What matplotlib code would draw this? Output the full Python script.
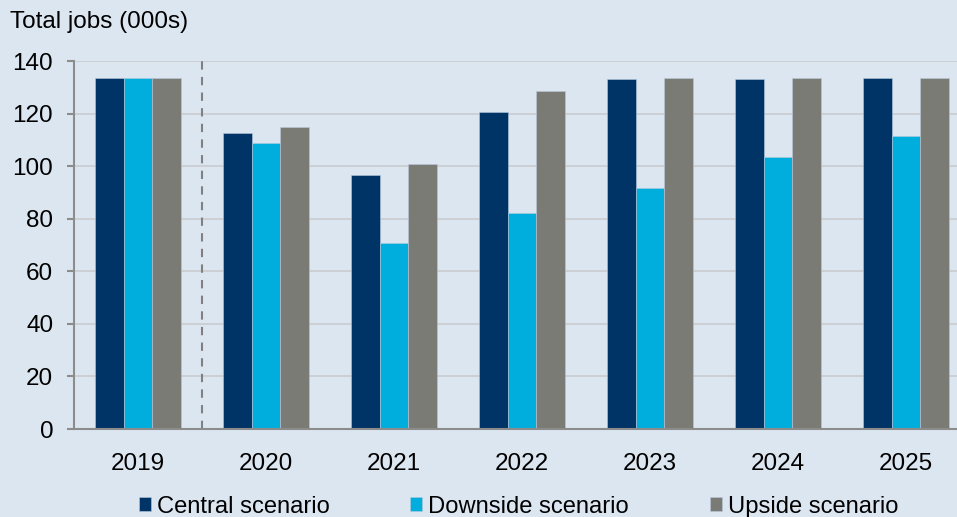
import numpy as np
import matplotlib.pyplot as plt

years = ['2019', '2020', '2021', '2022', '2023', '2024', '2025']
central = [133.7, 112.5, 96.8, 120.7, 133.3, 133.3, 133.4]
downside = [133.7, 108.9, 70.6, 82.3, 91.7, 103.4, 111.6]
upside = [133.7, 115.0, 100.7, 128.7, 133.5, 133.5, 133.5]
seriesNames = ['Central scenario', 'Downside scenario', 'Upside scenario']
colors = ['#003366', '#00aede', '#7b7b76']

bg = '#dce6f1'
fs = 17.5
plt.rcParams['font.family'] = ['Liberation Sans', 'DejaVu Sans']

fig = plt.figure(figsize=(9.57, 5.17), dpi=100, facecolor=bg)
ax = fig.add_axes([74 / 957, 88 / 517, 896 / 957, 368 / 517])
ax.set_facecolor(bg)

x = np.arange(len(years))
w = 0.222
bars = []
for i, (vals, name) in enumerate(zip([central, downside, upside], seriesNames)):
    b = ax.bar(x + (i - 1) * w, vals, width=w, color=colors[i], label=name,
               edgecolor='#b8c8dc', linewidth=0.4, zorder=3)
    bars.append(b)

ax.set_xlim(-0.5, 6.5)
ax.set_ylim(0, 140)
ax.set_yticks(np.arange(0, 141, 20))
ax.yaxis.grid(True, color='#c9cbcd', linewidth=1.2, zorder=0)
ax.axvline(0.5, color='#808080', linestyle=(0, (4, 3.5)), linewidth=1.5, zorder=2)

for s in ['top', 'right']:
    ax.spines[s].set_visible(False)
for s in ['left', 'bottom']:
    ax.spines[s].set_color('#8c8c8c')
    ax.spines[s].set_linewidth(1.5)
ax.spines['bottom'].set_zorder(4)

ax.set_xticks(x)
ax.set_xticklabels(years)
ax.tick_params(axis='x', length=0, pad=17, labelsize=fs)
ax.tick_params(axis='y', length=5, width=1.5, color='#8c8c8c', pad=10, labelsize=fs)

fig.text(10 / 957, 1 - 22 / 517, 'Total jobs (000s)', fontsize=fs, va='center', ha='left')

# one legend per entry so the uneven spacing of the original can be kept
legX = [139, 410, 710]
for b, name, lx in zip(bars, seriesNames, legX):
    fig.legend([b], [name], loc='center left', bbox_to_anchor=(lx / 957, 0.02),
               frameon=False, fontsize=17.1, handlelength=0.5, handleheight=0.5,
               handletextpad=0.25, borderpad=0, borderaxespad=0)

fig.savefig('out.png', dpi=100, facecolor=bg)
